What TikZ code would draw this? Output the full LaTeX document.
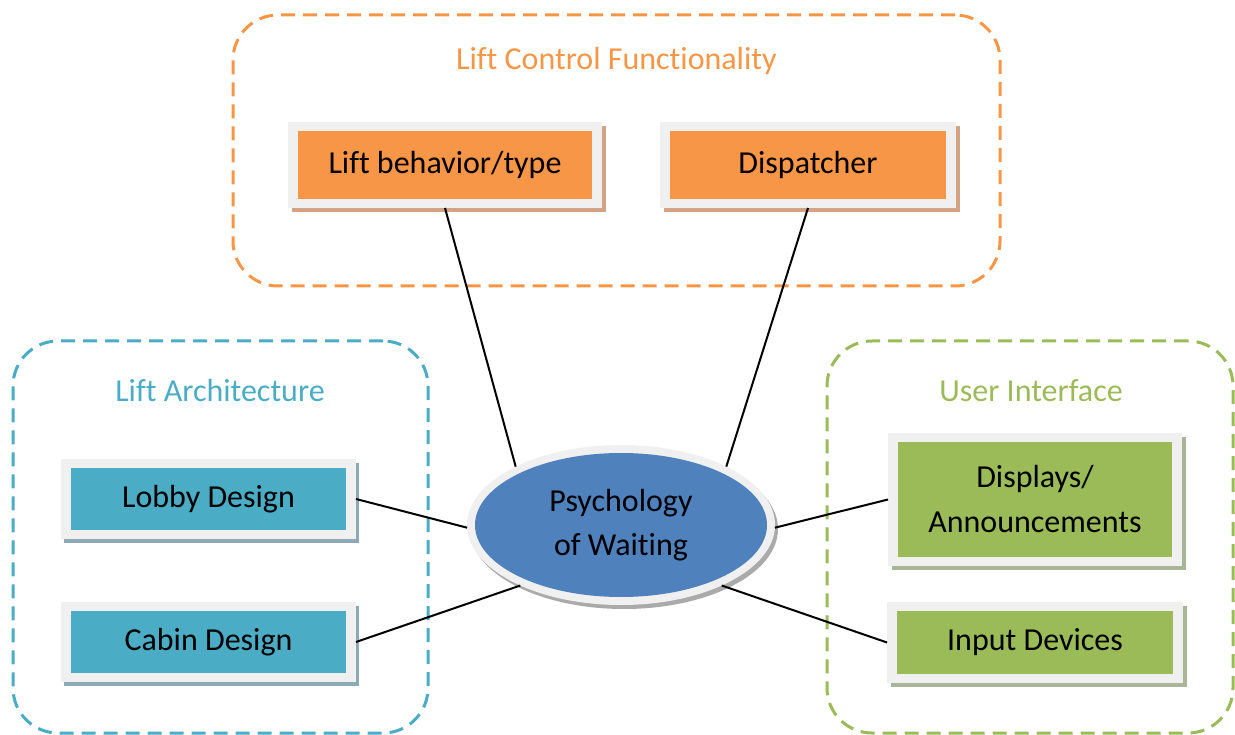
\documentclass[tikz,border=0pt]{standalone}
\usepackage{fontspec}
\setmainfont{Carlito}[Ligatures=NoCommon]
\usetikzlibrary{shapes.geometric,shadows}
\definecolor{cOrange}{HTML}{F79646}
\definecolor{cBlue}{HTML}{4BACC6}
\definecolor{cGreen}{HTML}{9BBB59}
\definecolor{cEll}{HTML}{4F81BD}
\definecolor{cFrame}{HTML}{F0F0F0}
\definecolor{sOrange}{RGB}{208,164,132}
\definecolor{sBlue}{RGB}{140,170,182}
\definecolor{sGreen}{RGB}{170,180,150}
\definecolor{sEll}{RGB}{170,170,170}
\tikzset{
  group/.style={draw=#1, line width=3pt, dash pattern=on 14pt off 8pt, rounded corners=45pt, inner sep=0pt, outer sep=0pt},
  grouptitle/.style={text=#1, font=\fontsize{32}{44}\selectfont, inner sep=0pt},
  item/.style={fill=cFrame, inner sep=0pt, outer sep=0pt, align=center,
    font=\fontsize{32}{45}\selectfont,
    path picture={\fill[#1] ([shift={(10pt,9pt)}]path picture bounding box.south west) rectangle ([shift={(-10pt,-9pt)}]path picture bounding box.north east);}},
  orangeitem/.style={item=cOrange, drop shadow={shadow xshift=4pt, shadow yshift=-4pt, fill=sOrange, opacity=1}},
  blueitem/.style={item=cBlue, drop shadow={shadow xshift=3pt, shadow yshift=-4pt, fill=sBlue, opacity=1}},
  greenitem/.style={item=cGreen, drop shadow={shadow xshift=4pt, shadow yshift=-4pt, fill=sGreen, opacity=1}},
  link/.style={draw=black, line width=2pt},
}
\begin{document}
\begin{tikzpicture}[x=1pt, y=-1pt]
\useasboundingbox (0,0) rectangle (1235,735);
% groups
\node[group=cOrange, minimum width=767pt, minimum height=271pt] (gctrl) at (616.5,150.5) {};
\node[group=cBlue, minimum width=415pt, minimum height=392pt] (garch) at (220.5,537) {};
\node[group=cGreen, minimum width=406pt, minimum height=392pt] (gui) at (1030,537) {};
\node[grouptitle=cOrange] (tctrl) at (616.5,61) {Lift Control Functionality};
\node[grouptitle=cBlue] (tarch) at (220,391) {Lift Architecture};
\node[grouptitle=cGreen] (tui) at (1031,391) {User Interface};
% items
\node[orangeitem, minimum width=314pt, minimum height=86pt] (lbt) at (445,165) {Lift behavior/type};
\node[orangeitem, minimum width=296pt, minimum height=86pt] (dis) at (808,165) {Dispatcher};
\node[blueitem, minimum width=295pt, minimum height=80pt] (lobby) at (208.5,499) {Lobby Design};
\node[blueitem, minimum width=295pt, minimum height=80pt] (cabin) at (208.5,642) {Cabin Design};
\node[greenitem, minimum width=294pt, minimum height=133pt] (displays) at (1035,499.5) {Displays/\\Announcements};
\node[greenitem, minimum width=296pt, minimum height=81pt] (input) at (1035,642.5) {Input Devices};
% centre ellipse
\node[ellipse, minimum width=308pt, minimum height=160pt, inner sep=0pt, outer sep=0pt,
      fill=cFrame, align=center, font=\fontsize{32}{44}\selectfont,
      drop shadow={shadow xshift=3pt, shadow yshift=-4pt, fill=sEll, opacity=1},
      path picture={\fill[cEll] (path picture bounding box.center) ellipse [x radius=146pt, y radius=72pt];}]
      (psy) at (621,525) {Psychology\\of Waiting};
% connectors
\draw[link] (lbt.south) -- (psy.151);
\draw[link] (dis.south) -- (psy.29);
\draw[link] (lobby.east) -- (psy.181);
\draw[link] (cabin.east) -- (psy.211);
\draw[link] (displays.west) -- (psy.-1);
\draw[link] (input.west) -- (psy.-31);
\end{tikzpicture}
\end{document}
